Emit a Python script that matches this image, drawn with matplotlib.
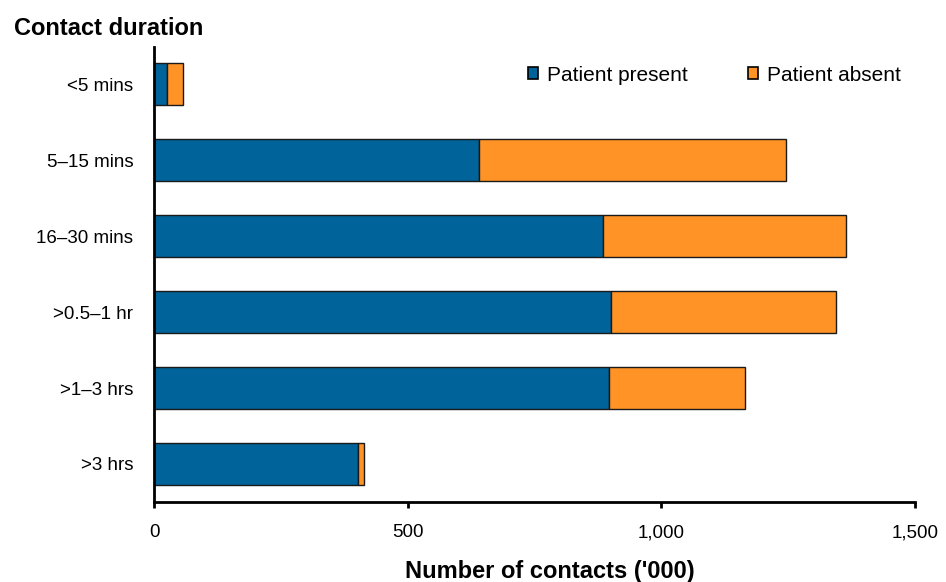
import matplotlib
matplotlib.use("Agg")
import matplotlib.pyplot as plt
from matplotlib.patches import Patch

plt.rcParams['font.family'] = ['Liberation Sans', 'DejaVu Sans']

categories = ["<5 mins", "5–15 mins", "16–30 mins", ">0.5–1 hr", ">1–3 hrs", ">3 hrs"]
present = [26, 640, 885, 901, 897, 401]
absent = [31, 607, 479, 443, 269, 12]
xticks = [0, 500, 1000, 1500]
xticklabels = ["0", "500", "1,000", "1,500"]

blue = "#00639A"
orange = "#FF9326"

fig = plt.figure(figsize=(9.46, 5.82), dpi=100)
ax = fig.add_axes([0.163, 0.1375, 0.804, 0.782])

y = list(range(len(categories)))
ax.barh(y, present, height=0.55, color=blue, edgecolor="#1a1a1a", linewidth=1.0)
ax.barh(y, absent, left=present, height=0.55, color=orange, edgecolor="#1a1a1a", linewidth=1.0)

ax.set_ylim(5.5, -0.49)
ax.set_xlim(0, 1500)
ax.set_yticks(y)
ax.set_yticklabels(categories, fontsize=13.5)
ax.set_xticks(xticks)
ax.set_xticklabels(xticklabels, fontsize=13.5)
ax.tick_params(axis='y', length=0, pad=15)
ax.tick_params(axis='x', length=4, width=2, pad=12, direction='out')

for s in ["top", "right"]:
    ax.spines[s].set_visible(False)
for s in ["left", "bottom"]:
    ax.spines[s].set_linewidth(2)
    ax.spines[s].set_color("black")

ax.set_xlabel("Number of contacts ('000)", fontsize=17, fontweight='bold')
ax.xaxis.label.set_va('center')
ax.xaxis.set_label_coords(0.52, -0.152)
fig.text(0.015, 0.951, "Contact duration", fontsize=17, fontweight='bold', ha='left', va='center')

handles = [Patch(facecolor=blue, edgecolor="black", linewidth=1.2, label="Patient present"),
           Patch(facecolor=orange, edgecolor="black", linewidth=1.2, label="Patient absent")]
fig.legend(handles=handles, loc='center', bbox_to_anchor=(0.755, 0.871), ncol=2, frameon=False,
           fontsize=15, handlelength=0.5, handleheight=0.5, handletextpad=0.4, columnspacing=2.9)

fig.savefig("out.png", dpi=100)
